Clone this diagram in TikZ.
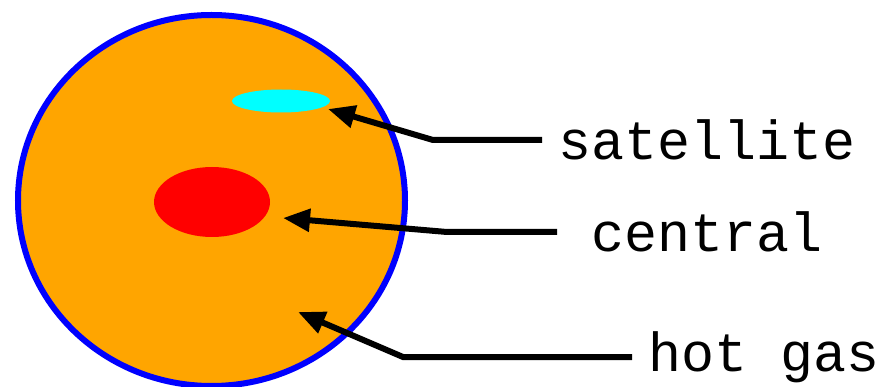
\documentclass[tikz,border=0pt]{standalone}
\usepackage{fontspec}
\setmonofont{Liberation Mono}
\usetikzlibrary{shapes.geometric,arrows.meta}
\definecolor{gasorange}{HTML}{FFA500}
\definecolor{ringblue}{HTML}{0000FF}
\definecolor{satcyan}{HTML}{00FFFF}
\definecolor{cenred}{HTML}{FF0000}
\begin{document}
\begin{tikzpicture}[x=1pt, y=-1pt, >={Triangle[length=27pt,width=22pt]}]
\useasboundingbox (0,0) rectangle (883,387);
\tikzset{blob/.style={ellipse, inner sep=0pt, outer sep=0pt},
  lbl/.style={anchor=west, inner xsep=16pt, inner ysep=0pt, font=\fontsize{55}{60}\selectfont\ttfamily},
  pointer/.style={->, line width=6pt, line join=miter}}
\node[blob, fill=gasorange, draw=ringblue, line width=6pt, minimum width=387pt, minimum height=371pt] (halo) at (211.5,200.5) {};
\node[blob, fill=satcyan, minimum width=98pt, minimum height=23pt] (sat) at (281,101) {};
\node[blob, fill=cenred, minimum width=116pt, minimum height=70pt] (cen) at (212,202) {};
\coordinate (satbend) at (433,140);
\coordinate (sattip) at (328,109);
\coordinate (cenbend) at (447,232);
\coordinate (centip) at (283,218);
\coordinate (gasbend) at (403,357);
\coordinate (gastip) at (298,312);
\node[lbl] (satl) at (542,140) {satellite};
\node[lbl, inner xsep=34pt] (cenl) at (557,232) {central};
\node[lbl] (gasl) at (632,357) {hot gas};
\draw[pointer] (satl.west) -- (satbend) -- (sattip);
\draw[pointer] (cenl.west) -- (cenbend) -- (centip);
\draw[pointer] (gasl.west) -- (gasbend) -- (gastip);
\end{tikzpicture}
\end{document}
